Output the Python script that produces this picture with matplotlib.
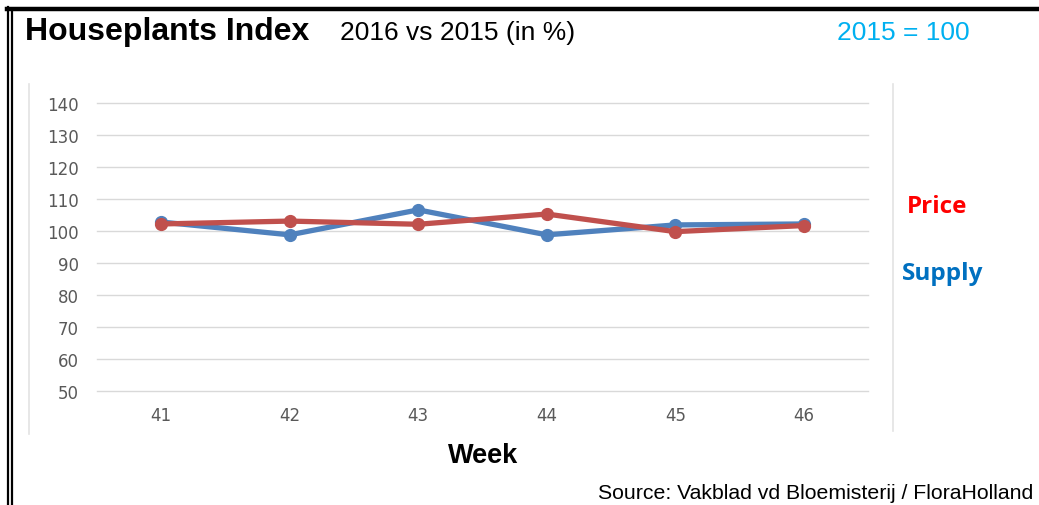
import matplotlib.pyplot as plt
from matplotlib.lines import Line2D

# Houseplants Index: 2016 vs 2015 (2015 = 100)
weeks = [41, 42, 43, 44, 45, 46]
supply = [102.8, 98.8, 106.6, 98.8, 101.9, 102.2]
price = [102.2, 103.1, 102.1, 105.3, 99.8, 101.7]
y_ticks = [50, 60, 70, 80, 90, 100, 110, 120, 130, 140]

W, H = 1039, 506
fig = plt.figure(figsize=(W / 100, H / 100), dpi=100)
fig.patch.set_facecolor('white')

def px(x, y):
    # pixel coords (top-left origin) -> figure fraction
    return x / W, 1 - y / H

# black outer frame: thick top line, double line on the left
fig.add_artist(Line2D([7 / W, 1], [1 - 10 / H, 1 - 10 / H], color='black', lw=3.2))
fig.add_artist(Line2D([7.5 / W, 7.5 / W], [0, 1 - 8 / H], color='black', lw=1.6))
fig.add_artist(Line2D([11.5 / W, 11.5 / W], [0, 1 - 12 / H], color='black', lw=1.6))

# light gray chart frame
fig.add_artist(Line2D([29 / W, 29 / W], [1 - 435 / H, 1 - 85 / H], color='#e3e3e3', lw=1.2))
fig.add_artist(Line2D([893 / W, 893 / W], [1 - 432 / H, 1 - 85 / H], color='#e3e3e3', lw=1.2))

# plot area
left, right, top, bottom = 97, 868, 104, 392
ax = fig.add_axes([left / W, 1 - bottom / H, (right - left) / W, (bottom - top) / H])
ax.set_xlim(40.5, 46.5)
ax.set_ylim(50, 140)
ax.set_yticks(y_ticks)
ax.set_xticks(weeks)
ax.grid(axis='y', color='#d9d9d9', lw=1)
for g in ax.get_ygridlines():
    g.set_clip_on(False)
ax.set_axisbelow(True)
for s in ax.spines.values():
    s.set_visible(False)
ax.tick_params(length=0, labelsize=12, labelcolor='#595959')
ax.tick_params(axis='y', pad=13)
ax.tick_params(axis='x', pad=11)

ax.plot(weeks, supply, color='#4f81bd', lw=3.8, marker='o', ms=8.5, clip_on=False, zorder=3)
ax.plot(weeks, price, color='#c0504d', lw=3.8, marker='o', ms=8.5, clip_on=False, zorder=4)

# titles and labels
fig.text(*px(25, 32), 'Houseplants Index', fontsize=23, fontweight='bold',
         family='Liberation Sans', va='center', ha='left')
fig.text(*px(340, 33), '2016 vs 2015 (in %)', fontsize=19, family='Liberation Sans',
         va='center', ha='left')
fig.text(*px(837, 33), '2015 = 100', fontsize=19, family='Liberation Sans',
         color='#00b0f0', va='center', ha='left')

fig.text(*px(907, 207), 'Price', fontsize=17.5, fontweight='bold', family='Open Sans',
         color='#ff0000', va='center', ha='left')
fig.text(*px(902, 274), 'Supply', fontsize=17.5, fontweight='bold', family='Open Sans',
         color='#0070c0', va='center', ha='left')

fig.text(*px(483, 456), 'Week', fontsize=19.5, fontweight='bold', family='Liberation Sans',
         va='center', ha='center')
fig.text(*px(1033, 494), 'Source: Vakblad vd Bloemisterij / FloraHolland', fontsize=15.3,
         family='Liberation Sans', va='center', ha='right')

fig.savefig('out.png', dpi=100, facecolor='white')
